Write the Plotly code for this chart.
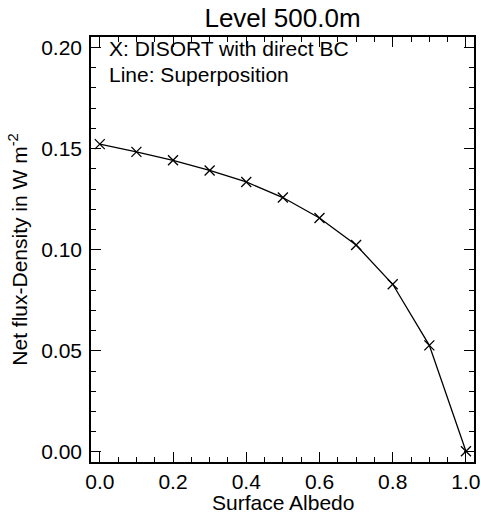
import plotly.graph_objects as go

albedo = [0.0, 0.1, 0.2, 0.3, 0.4, 0.5, 0.6, 0.7, 0.8, 0.9, 1.0]
disort = [0.1522, 0.1484, 0.1442, 0.1392, 0.1335, 0.1258, 0.1157, 0.1023, 0.0829, 0.0527, 0.0003]
superposition = [0.1522, 0.1484, 0.1442, 0.1392, 0.1335, 0.1258, 0.1157, 0.1023, 0.0829, 0.0527, 0.0003]

xticks = [0.0, 0.2, 0.4, 0.6, 0.8, 1.0]
xticklabels = ["0.0", "0.2", "0.4", "0.6", "0.8", "1.0"]
yticks = [0.00, 0.05, 0.10, 0.15, 0.20]
yticklabels = ["0.00", "0.05", "0.10", "0.15", "0.20"]

FONT = "Liberation Sans, Arial, Helvetica, sans-serif"
FS = 21

fig = go.Figure()
fig.add_trace(go.Scatter(x=albedo, y=superposition, mode="lines",
                         line=dict(color="black", width=1.3), showlegend=False))
fig.add_trace(go.Scatter(x=albedo, y=disort, mode="markers",
                         marker=dict(symbol="x-thin-open", size=10, color="black",
                                     line=dict(color="black", width=1.3)),
                         showlegend=False))

axis_common = dict(showline=True, linecolor="black", linewidth=1.5, mirror="allticks",
                   ticks="inside", ticklen=10, tickwidth=1, tickcolor="black",
                   showgrid=False, zeroline=False, automargin=False,
                   tickfont=dict(family=FONT, size=FS, color="black"))

fig.update_xaxes(range=[-0.024, 1.022], tickvals=xticks, ticktext=xticklabels,
                 ticklabelstandoff=0,
                 minor=dict(dtick=0.05, tick0=0, ticks="inside", ticklen=5, tickcolor="black", tickwidth=1),
                 **axis_common)
fig.update_yaxes(range=[-0.005, 0.2052], tickvals=yticks, ticktext=yticklabels,
                 ticklabelstandoff=3,
                 minor=dict(dtick=0.01, tick0=0, ticks="inside", ticklen=5, tickcolor="black", tickwidth=1),
                 title=dict(text="Net flux-Density in W m<sup>-2</sup>",
                            font=dict(family=FONT, size=FS, color="black"), standoff=8),
                 **axis_common)

L, R, T, B = 91, 7, 37, 52
PW, PH = 481 - L - R, 514 - T - B

def px_x(px):
    return (px - L) / PW

def px_y(py):
    return (514 - B - py) / PH

fig.add_annotation(x=px_x(107), y=px_y(49), xref="paper", yref="paper", xanchor="left", yanchor="middle",
                   text="X: DISORT with direct BC", showarrow=False,
                   font=dict(family=FONT, size=FS, color="black"))
fig.add_annotation(x=px_x(107), y=px_y(74), xref="paper", yref="paper", xanchor="left", yanchor="middle",
                   text="Line: Superposition", showarrow=False,
                   font=dict(family=FONT, size=FS, color="black"))
fig.add_annotation(x=0.5, y=px_y(502), xref="paper", yref="paper", xanchor="center", yanchor="middle",
                   text="Surface Albedo", showarrow=False, borderpad=0,
                   font=dict(family=FONT, size=FS, color="black"))

fig.update_layout(
    width=481, height=514,
    margin=dict(l=L, r=R, t=T, b=B),
    paper_bgcolor="white", plot_bgcolor="white",
    title=dict(text="Level 500.0m", x=(L + 481 - R) / 2 / 481, xanchor="center",
               y=1 - 18 / 514, yanchor="middle",
               font=dict(family=FONT, size=26, color="black")),
)

fig.write_html("out.html")
